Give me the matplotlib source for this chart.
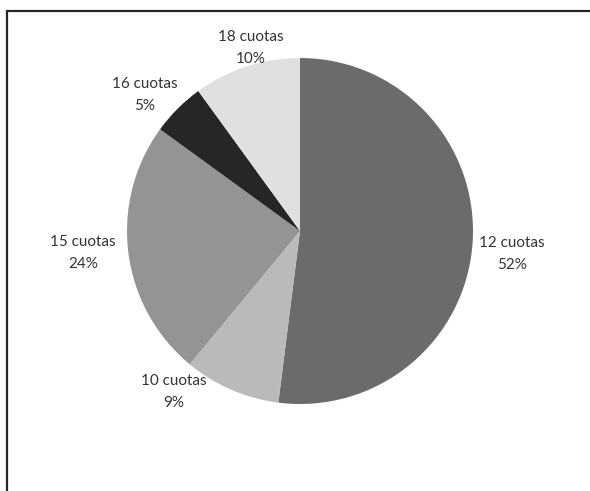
#!/usr/bin/env python3
"""Pie chart of payment plans (cuotas), grey Excel-style."""

import matplotlib
matplotlib.use("Agg")
import matplotlib.pyplot as plt
from matplotlib.patches import Rectangle

# data
labels = ["12 cuotas", "10 cuotas", "15 cuotas", "16 cuotas", "18 cuotas"]
shares = [52, 9, 24, 5, 10]
colors = ["#6b6b6b", "#bababa", "#949494", "#262626", "#e0e0e0"]

# text block centres, in pie radius units (layout only)
label_xy = [(1.225, -0.133), (-0.728, -0.931), (-1.254, -0.127),
            (-0.896, 0.786), (-0.283, 1.058)]

W, H, DPI = 590, 491, 100
R_PX = 173.0
CX, CY = 300.0, 491 - 231.0
XL, YL = 1.6, 1.35

fig = plt.figure(figsize=(W / DPI, H / DPI), dpi=DPI)
ax = fig.add_axes([(CX - XL * R_PX) / W, (CY - YL * R_PX) / H,
                   2 * XL * R_PX / W, 2 * YL * R_PX / H])

ax.pie(shares, colors=colors, startangle=90, counterclock=False,
       radius=1.0, wedgeprops=dict(linewidth=0))
ax.set_xlim(-XL, XL)
ax.set_ylim(-YL, YL)
ax.set_aspect("equal")
ax.axis("off")

for name, val, (x, y) in zip(labels, shares, label_xy):
    ax.text(x, y, f"{name}\n{val}%", ha="center", va="center",
            fontsize=11, family=["Lato", "DejaVu Sans"], color="#333333",
            linespacing=1.65)

# chart frame, only the top and left edges are inside the picture
fig.patches.append(Rectangle((6.5 / W, -0.1), 1.2, (H - 11) / H + 0.1,
                             transform=fig.transFigure, fill=False,
                             edgecolor="#262626", linewidth=1.6))

fig.savefig("out.png", dpi=DPI)
